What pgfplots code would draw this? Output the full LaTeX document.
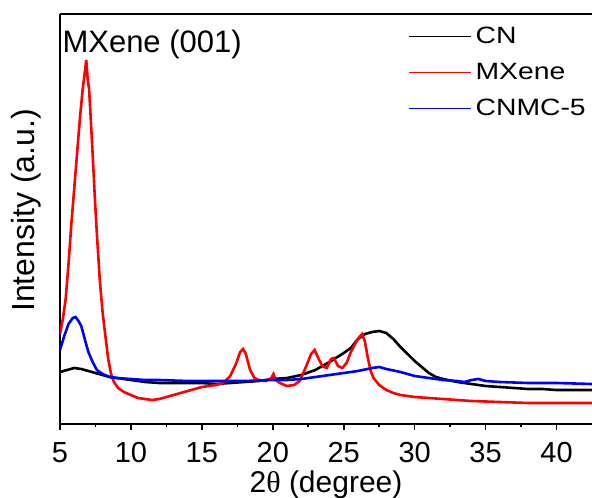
\documentclass[border=0pt]{standalone}
\usepackage{fontspec}
\setmainfont{Liberation Sans}
\newfontfamily\serifgreek{Liberation Serif}
\newfontfamily\legfont[FakeStretch=1.2]{Liberation Sans}
\usepackage{pgfplots}
\pgfplotsset{compat=1.18}
\definecolor{cnblack}{RGB}{0,0,0}
\definecolor{mxred}{RGB}{255,0,0}
\definecolor{cnmcblue}{RGB}{0,0,255}
\begin{document}
\begin{tikzpicture}
\begin{axis}[
  name=ax,
  scale only axis,
  width=266pt, height=205pt,
  xmin=5, xmax=42.5, ymin=0, ymax=410,
  axis x line=box, axis y line=left,
  axis line style={-, line width=1pt},
  xtick={5,10,...,40}, minor x tick num=1,
  xtick pos=left,
  ytick=\empty,
  tick align=outside,
  major tick length=3pt, minor tick length=1.6pt,
  every tick/.style={line width=0.8pt, black},
  /pgf/number format/assume math mode=true,
  ticklabel style={font=\fontsize{14.5}{17}\selectfont},
  xticklabel style={yshift=-2.5pt},
  xlabel={2{\serifgreek θ} (degree)},
  ylabel={Intensity (a.u.)},
  xlabel style={font=\fontsize{15}{18}\selectfont, yshift=3pt},
  ylabel style={font=\fontsize{16}{19}\selectfont, yshift=3pt, xshift=4.3pt},
  legend style={draw=none, fill=none, font=\legfont\fontsize{11.8}{14}\selectfont,
    at={(rel axis cs:0.653,0.977)}, anchor=north west, inner sep=0pt,
    row sep=5.3pt, column sep=0.5pt, nodes={inner sep=1.5pt}},
  legend cell align=left,
  legend image code/.code={\draw[#1, line width=0.9pt] (0pt,0pt) -- (31pt,0pt);},
  clip=true,
]
\addplot[cnblack, line width=1.3pt] coordinates {
(5.0,52) (5.5,54) (6.0,56) (6.5,55) (7.0,53) (7.5,51) (8.0,49) (8.5,47) (9.0,46)
(10.0,44) (11.0,42) (12.0,41) (13.0,41) (14.0,41) (15.0,41) (16.0,40) (17.0,41)
(18.0,42) (19.0,43) (20.0,45) (21.0,46) (22.0,49) (23.0,54) (24.0,62) (25.0,71)
(25.5,76) (26.0,85) (26.5,90) (27.0,92) (27.5,93) (28.0,91) (28.5,85) (29.0,77)
(29.5,70) (30.0,63) (30.5,57) (31.0,51) (31.5,47) (32.0,45) (33.0,42) (34.0,40)
(35.0,38) (36.0,37) (37.0,36) (38.0,35) (39.0,35) (40.0,34) (41.0,34) (42.5,34)
};
\addlegendentry{CN}
\addplot[mxred, line width=1.3pt] coordinates {
(5.0,90) (5.2,105) (5.4,125) (5.6,160) (5.8,200) (6.0,235) (6.2,270) (6.4,305)
(6.6,335) (6.75,352) (6.85,364) (6.95,345) (7.05,335) (7.15,310) (7.3,270)
(7.45,228) (7.6,190) (7.8,145) (8.0,112) (8.2,88) (8.4,65) (8.6,50) (8.8,42)
(9.1,36) (9.5,32) (10.0,29) (10.5,26) (11.0,25) (11.5,24) (12.0,25) (12.5,27)
(13.0,29) (13.5,31) (14.0,33) (14.5,35) (15.0,37) (15.5,38) (16.0,39) (16.5,41)
(17.0,48) (17.4,60) (17.7,72) (17.9,75) (18.1,70) (18.4,54) (18.7,46) (19.0,44)
(19.5,43) (19.9,46) (20.05,50) (20.2,44) (20.5,41) (21.0,38) (21.5,39) (21.9,43)
(22.3,56) (22.7,70) (22.95,74) (23.2,66) (23.5,58) (23.8,56) (24.1,65) (24.3,66)
(24.6,58) (24.9,56) (25.2,61) (25.5,72) (25.8,80) (26.1,87) (26.3,90) (26.5,82)
(26.7,66) (26.9,53) (27.1,46) (27.5,39) (28.0,34) (28.5,31) (29.0,29) (30.0,27)
(31.0,26) (32.0,25) (34.0,23) (36.0,22) (38.0,21) (40.0,21) (42.5,21)
};
\addlegendentry{MXene}
\addplot[cnmcblue, line width=1.3pt] coordinates {
(5.0,74) (5.3,88) (5.6,100) (5.9,106) (6.1,107) (6.3,103) (6.5,98) (6.8,82)
(7.0,72) (7.3,62) (7.6,54) (8.0,50) (8.5,47) (9.0,46) (10.0,45) (11.0,44)
(12.0,44) (14.0,43) (16.0,43) (18.0,43) (20.0,44) (21.0,44) (22.0,45) (23.0,47)
(24.0,49) (25.0,51) (26.0,53) (27.0,56) (27.5,57) (28.0,55) (29.0,52) (30.0,48)
(31.0,46) (32.0,44) (33.0,43) (33.5,42) (34.0,44) (34.5,45) (35.0,43) (36.0,42)
(38.0,41) (40.0,41) (42.5,40)
};
\addlegendentry{CNMC-5}
\node[anchor=base west, font=\fontsize{15.5}{18}\selectfont, inner sep=0pt] at (axis cs:5.15,371) {MXene (001)};
\end{axis}
\pgfresetboundingbox
\path[use as bounding box] ([xshift=-30pt,yshift=-36.5pt]ax.south west) rectangle ([yshift=7pt]ax.north east);
\end{tikzpicture}
\end{document}
